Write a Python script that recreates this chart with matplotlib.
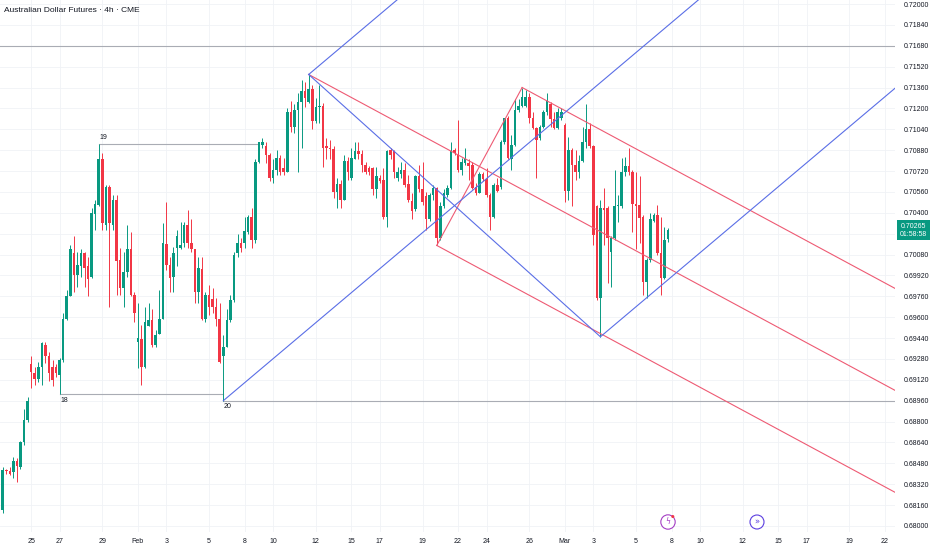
import numpy as np
import matplotlib
matplotlib.use("Agg")
import matplotlib.pyplot as plt
import matplotlib.transforms as mtransforms

plt.rcParams['font.family'] = ['Liberation Sans Narrow', 'Liberation Sans', 'DejaVu Sans']

# 4h candles, AUD futures (CME), late Jan -> 6 Mar
opens = [
    .6812, .6843, .6842, .6841, .6850, .6845, .6864, .6881,
    .6924, .6917, .6913, .6922, .6939, .6930, .6922, .6922, .6916, .6927,
    .6959, .6976, .7009, .6992, .6999, .7009, .6999, .6991, .7039, .7046,
    .7081, .7031, .7060, .7031, .7050, .7004, .6982, .6995, .7012, .6977,
    .6941, .6943, .6922, .6953, .6958, .6939, .6947, .6959, .7016, .7000,
    .6991, .7013, .7013, .7017, .7031, .7017, .7012, .6979, .6997, .6959,
    .6977, .6974, .6968, .6959, .6930, .6937, .6958, .6973, .7009, .7017,
    .7017, .7025, .7037, .7019, .7079, .7092, .7091, .7084, .7067, .7073,
    .7082, .7074, .7071, .7117, .7106, .7119, .7125, .7133, .7125, .7135,
    .7110, .7121, .7122, .7091, .7090, .7089, .7056, .7062, .7050, .7080,
    .7067, .7081, .7087, .7085, .7077, .7074, .7074, .7058, .7067, .7065,
    .7037, .7088, .7087, .7067, .7070, .7073, .7062, .7049, .7043, .7068,
    .7058, .7053, .7035, .7054, .7059, .7021, .7045, .7054, .7059, .7088,
    .7084, .7073, .7078, .7078, .7077, .7060, .7055, .7070, .7066, .7054,
    .7037, .7061, .7060, .7094, .7113, .7081, .7092, .7119, .7122, .7122,
    .7129, .7113, .7105, .7097, .7106, .7117, .7123, .7112, .7105, .7113,
    .7107, .7057, .7088, .7077, .7071, .7080, .7094, .7104, .7091, .7045,
    .6975, .7044, .7044, .7010, .7021, .7045, .7045, .7071, .7076, .7071,
    .7047, .7046, .7037, .6987, .7004, .7034, .7038, .7009, .6990, .7020,
]
highs = [
    .6845, .6844, .6845, .6853, .6852, .6865, .6890, .6899,
    .6930, .6922, .6926, .6941, .6941, .6933, .6927, .6924, .6929, .6963,
    .6981, .7015, .7022, .7010, .7012, .7010, .7006, .7044, .7050, .7093,
    .7086, .7061, .7061, .7054, .7054, .7013, .7010, .7031, .7025, .6979,
    .6971, .6954, .6968, .6971, .6966, .6950, .6981, .7032, .7048, .7006,
    .7014, .7027, .7033, .7033, .7042, .7035, .7012, .7006, .7006, .6979,
    .6985, .6982, .6975, .6971, .6946, .6966, .6977, .7010, .7024, .7021,
    .7037, .7038, .7044, .7081, .7094, .7097, .7094, .7086, .7081, .7088,
    .7084, .7082, .7120, .7126, .7123, .7132, .7142, .7140, .7146, .7138,
    .7128, .7138, .7124, .7097, .7096, .7091, .7067, .7065, .7084, .7083,
    .7090, .7094, .7094, .7088, .7079, .7076, .7075, .7075, .7069, .7074,
    .7088, .7090, .7088, .7075, .7079, .7078, .7069, .7055, .7069, .7077,
    .7079, .7056, .7055, .7061, .7060, .7048, .7058, .7061, .7094, .7090,
    .7111, .7082, .7090, .7081, .7079, .7063, .7071, .7071, .7074, .7055,
    .7063, .7067, .7096, .7113, .7114, .7100, .7127, .7127, .7136, .7134,
    .7132, .7117, .7106, .7107, .7119, .7132, .7125, .7117, .7120, .7120,
    .7109, .7098, .7090, .7088, .7084, .7106, .7123, .7109, .7092, .7046,
    .7050, .7059, .7045, .7022, .7073, .7054, .7082, .7083, .7090, .7073,
    .7071, .7068, .7038, .7005, .7040, .7040, .7046, .7037, .7029, .7028,
]
lows = [
    .6810, .6840, .6839, .6837, .6834, .6844, .6862, .6880,
    .6906, .6908, .6910, .6908, .6925, .6911, .6907, .6914, .6901, .6926,
    .6958, .6976, .6979, .6983, .6991, .6983, .6976, .6990, .7027, .7045,
    .7027, .7027, .6968, .7027, .6977, .6977, .6968, .6991, .6976, .6956,
    .6921, .6908, .6921, .6953, .6937, .6937, .6947, .6959, .6996, .6979,
    .6979, .6999, .7012, .7014, .7013, .7010, .6971, .6971, .6958, .6956,
    .6962, .6963, .6953, .6925, .6896, .6937, .6956, .6972, .7006, .7010,
    .7013, .7024, .7013, .7017, .7078, .7090, .7078, .7064, .7063, .7069,
    .7069, .7069, .7071, .7102, .7101, .7071, .7090, .7121, .7124, .7104,
    .7109, .7109, .7075, .7081, .7081, .7051, .7044, .7044, .7050, .7065,
    .7065, .7081, .7081, .7071, .7070, .7069, .7054, .7051, .7063, .7035,
    .7029, .7081, .7067, .7064, .7067, .7060, .7048, .7035, .7041, .7056,
    .7046, .7027, .7034, .7050, .7015, .7019, .7044, .7052, .7058, .7084,
    .7071, .7069, .7077, .7065, .7058, .7054, .7055, .7064, .7052, .7027,
    .7036, .7056, .7058, .7093, .7081, .7073, .7091, .7117, .7121, .7121,
    .7109, .7104, .7067, .7096, .7105, .7115, .7106, .7104, .7104, .7111,
    .7048, .7050, .7045, .7065, .7067, .7079, .7090, .7090, .7015, .6973,
    .6945, .7015, .6986, .6983, .7019, .7033, .7044, .7068, .7069, .7025,
    .7012, .7017, .6977, .6975, .7002, .7033, .7008, .6977, .6989, .7018,
]
closes = [
    .6843, .6842, .6840, .6850, .6846, .6864, .6881, .6896,
    .6918, .6913, .6922, .6940, .6930, .6917, .6912, .6917, .6927, .6959,
    .6976, .7012, .6992, .7000, .7009, .6998, .6989, .7040, .7047, .7081,
    .7032, .7060, .7032, .7050, .7003, .6982, .6995, .7012, .6977, .6963,
    .6944, .6922, .6956, .6958, .6939, .6946, .6959, .7017, .7000, .6990,
    .7009, .7022, .7015, .7031, .7017, .7012, .6979, .6998, .6959, .6977,
    .6968, .6968, .6959, .6926, .6937, .6958, .6973, .7008, .7017, .7013,
    .7026, .7037, .7019, .7079, .7094, .7094, .7084, .7067, .7073, .7082,
    .7071, .7071, .7117, .7106, .7119, .7125, .7133, .7128, .7135, .7110,
    .7121, .7122, .7090, .7090, .7089, .7056, .7062, .7050, .7080, .7071,
    .7082, .7087, .7085, .7077, .7071, .7071, .7058, .7068, .7064, .7037,
    .7087, .7084, .7071, .7071, .7073, .7061, .7050, .7041, .7068, .7058,
    .7048, .7035, .7054, .7059, .7021, .7045, .7055, .7059, .7087, .7086,
    .7073, .7079, .7081, .7076, .7059, .7055, .7070, .7066, .7054, .7037,
    .7061, .7057, .7094, .7113, .7082, .7092, .7119, .7122, .7129, .7129,
    .7113, .7105, .7096, .7106, .7117, .7126, .7112, .7105, .7117, .7117,
    .7057, .7088, .7077, .7071, .7080, .7094, .7104, .7091, .7023, .6975,
    .7044, .7042, .7021, .7021, .7045, .7046, .7071, .7076, .7071, .7047,
    .7045, .7036, .6987, .7004, .7035, .7038, .7009, .6990, .7019, .70265,
]

# date labels sit on the first bar of each day
tick_bars = [8, 16, 28, 38, 46, 58, 68, 76, 88, 98, 106, 118, 128,
             136, 148, 158, 166, 178, 188, 196, 208, 218, 226, 238, 248]
tick_labels = ['25', '27', '29', 'Feb', '3', '5', '8', '10', '12', '15', '17', '19', '22',
               '24', '26', 'Mar', '3', '5', '8', '10', '12', '15', '17', '19', '22']

# drawings: pitchfork anchors (bar indices) and marked swing points
red_fork = [86, 122, 146]    # high, low, high
blue_fork = [62, 86, 168]    # low, high, low
level_line = 0.7168
swing_19 = (27, 72)
swing_18 = (16, 62)
swing_20 = 62
last_price = 0.70265
countdown = '01:58:58'

UP = '#089981'
DOWN = '#f23645'
GRID = '#f0f2f6'
TXT = '#131722'

fig = plt.figure(figsize=(9.32, 5.5), dpi=100)
ax = fig.add_axes([0, 18 / 550, 895 / 932, 532 / 550])

o = np.array(opens)
h = np.array(highs)
l = np.array(lows)
c = np.array(closes)
x = np.arange(len(o))
col = np.where(c >= o, UP, DOWN)

# grid
ymin, ymax = 0.67954, 0.720307
yt = np.arange(0.68, 0.72001, 0.0016)
for v in yt:
    ax.axhline(v, color=GRID, lw=0.6, zorder=0)
for b in tick_bars:
    ax.axvline(b, color=GRID, lw=0.6, zorder=0)

# candles
ax.vlines(x, l, h, colors=col, lw=0.7, zorder=2)
body = np.abs(c - o)
body = np.maximum(body, 0.00003)
ax.bar(x, body, bottom=np.minimum(o, c), width=0.72, color=col, lw=0, zorder=3)

# horizontal levels
GREY = '#a9acb4'
ax.axhline(level_line, color=GREY, lw=0.8, zorder=1)
ax.plot(swing_19, [highs[swing_19[0]]] * 2, color=GREY, lw=0.8, zorder=1)
ax.plot(swing_18, [lows[swing_18[0]]] * 2, color=GREY, lw=0.8, zorder=1)
ax.plot([swing_20, 400], [lows[swing_20]] * 2, color=GREY, lw=0.8, zorder=1)
ax.text(swing_19[0] + 0.2, highs[swing_19[0]] + 0.0002, '19', fontsize=5, color=TXT, va='bottom')
ax.text(swing_18[0] + 0.2, lows[swing_18[0]] - 0.0002, '18', fontsize=5, color=TXT, va='top')
ax.text(swing_20 + 0.2, lows[swing_20] - 0.0002, '20', fontsize=5, color=TXT, va='top')


def pitchfork(idx, prices, color):
    (x1, x2, x3), (y1, y2, y3) = idx, prices
    mx, my = (x2 + x3) / 2, (y2 + y3) / 2
    k = (my - y1) / (mx - x1)
    far = 400
    ax.plot([x1, far], [y1, y1 + k * (far - x1)], color=color, lw=0.8, zorder=4)
    ax.plot([x2, far], [y2, y2 + k * (far - x2)], color=color, lw=0.8, zorder=4)
    ax.plot([x3, far], [y3, y3 + k * (far - x3)], color=color, lw=0.8, zorder=4)
    ax.plot([x2, x3], [y2, y3], color=color, lw=0.8, zorder=4)


pitchfork(red_fork, [highs[red_fork[0]], lows[red_fork[1]], highs[red_fork[2]]], '#ee5a73')
pitchfork(blue_fork, [lows[blue_fork[0]], highs[blue_fork[1]], lows[blue_fork[2]]], '#5a6ee6')

ax.set_xlim(-0.76, 250.8)
ax.set_ylim(ymin, ymax)
ax.set_xticks(tick_bars)
ax.set_xticklabels(tick_labels)
ax.set_yticks(yt)
# the price tag hides the scale label right under it
ylabels = ['' if abs(v - last_price) < 0.0005 else '%.5f' % v for v in yt]
ax.set_yticklabels(ylabels)
ax.yaxis.tick_right()
ax.tick_params(axis='y', length=0, pad=6, labelsize=5, labelcolor=TXT)
ax.tick_params(axis='x', length=0, pad=4, labelsize=5, labelcolor=TXT)
for s in ax.spines.values():
    s.set_visible(False)

# last price tag
tr = mtransforms.blended_transform_factory(ax.transAxes, ax.transData)
ax.text(1.0207, last_price, '%.5f\n%s' % (last_price, countdown), transform=tr,
        ha='center', va='center', fontsize=5, color='white', linespacing=1.25,
        clip_on=False, zorder=10,
        bbox=dict(boxstyle='square,pad=0.35', fc=UP, ec='none'))

# title and event icons
fig.text(4 / 932, 1 - 10 / 550, 'Australian Dollar Futures \u00b7 4h \u00b7 CME',
         fontsize=6, color=TXT, va='center')
fig.text(668 / 932, 1 - 522 / 550, '\u03df', fontsize=5.5, color='#a43ec4', ha='center', va='center',
         family='DejaVu Sans',
         bbox=dict(boxstyle='circle,pad=0.35', fc='white', ec='#a43ec4', lw=0.8))
fig.text(673 / 932, 1 - 517 / 550, '\u25cf', fontsize=3, color='#f23645', ha='center', va='center',
         family='DejaVu Sans')
fig.text(757 / 932, 1 - 522 / 550, '\u00bb', fontsize=6, color='#5b3ee0', ha='center', va='center',
         family='DejaVu Sans',
         bbox=dict(boxstyle='circle,pad=0.3', fc='white', ec='#5b3ee0', lw=0.8))

fig.savefig('out.png', dpi=100, facecolor='white')
